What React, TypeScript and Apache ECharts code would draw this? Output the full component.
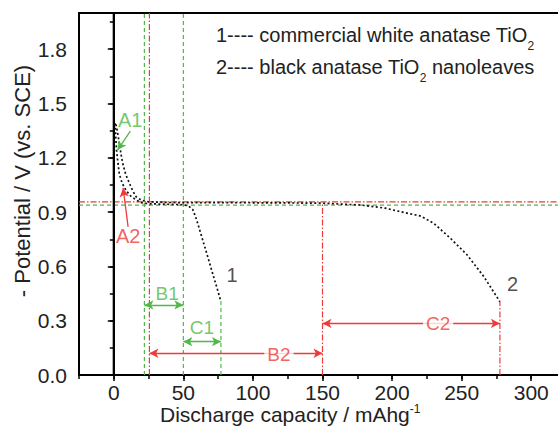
import React, { useEffect, useRef } from 'react';
import * as echarts from 'echarts';

const GREEN = '#4fb947';
const RED = '#f03a3a';
const FONT = '"Liberation Sans", Arial, sans-serif';

// Axis ranges / ticks
const xMin = -25;
const xMax = 325;
const yMin = 0;
const yMax = 2.0;
const xMajorTicks = [0, 50, 100, 150, 200, 250, 300];
const yMajorTicks = [0, 0.3, 0.6, 0.9, 1.2, 1.5, 1.8];

// Curve 1: commercial white anatase TiO2
const curve1: [number, number][] = [
  [1.0, 1.39], [1.5, 1.30], [2.0, 1.24], [3.0, 1.17], [4.0, 1.11], [6.0, 1.06],
  [8.8, 1.02], [12, 0.99], [16, 0.967], [20, 0.952], [25, 0.946], [35, 0.944],
  [45, 0.942], [50.7, 0.94], [54, 0.932], [56.7, 0.915], [58.5, 0.88], [60.3, 0.838],
  [63.9, 0.746], [67.5, 0.654], [71, 0.562], [74.6, 0.47], [77, 0.405],
];

// Curve 2: black anatase TiO2 nanoleaves
const curve2: [number, number][] = [
  [1.5, 1.385], [2.5, 1.35], [4, 1.28], [5.2, 1.22], [6.4, 1.17], [8.5, 1.11],
  [11.2, 1.06], [13.5, 1.02], [16, 0.985], [20, 0.965], [25, 0.957], [40, 0.953],
  [80, 0.952], [120, 0.951], [150, 0.949], [177.5, 0.939], [195, 0.922], [206.2, 0.902],
  [220.6, 0.878], [230, 0.838], [242, 0.755], [254, 0.663], [266, 0.543], [277.5, 0.405],
];

// Reference guide lines (segments)
const greenGuides: [number, number][][] = [
  [[22, 0], [22, 2]],
  [[50, 0], [50, 2]],
  [[77, 0], [77, 0.405]],
  [[-25, 0.939], [325, 0.939]],
];
const redGuides: [number, number][][] = [
  [[25.6, 0], [25.6, 2]],
  [[150, 0], [150, 0.95]],
  [[277.5, 0], [277.5, 0.405]],
  [[-25, 0.957], [325, 0.957]],
];

// Arrows: [from, to, double-headed]
const greenArrows: [[number, number], [number, number], boolean][] = [
  [[22, 0.387], [50, 0.387], true],
  [[50, 0.184], [77, 0.184], true],
  [[11.9, 1.347], [2.7, 1.243], false],
];
const redArrows: [[number, number], [number, number], boolean][] = [
  [[25.6, 0.12], [150, 0.12], true],
  [[150, 0.285], [277.5, 0.285], true],
  [[10.3, 0.818], [6.7, 1.033], false],
];

// Annotation labels
const annotTexts = ['A1', 'A2', 'B1', 'C1', 'B2', 'C2', '1', '2'];
const annotPos: [number, number][] = [
  [11.8, 1.409], [10.3, 0.768], [38.3, 0.453], [63.4, 0.26],
  [118.7, 0.116], [233.1, 0.287], [85, 0.552], [286.6, 0.503],
];
const annotColors = [GREEN, RED, GREEN, GREEN, RED, RED, '#222', '#222'];
const annotSizes = [20, 20, 19, 19, 19, 19, 20, 20];
const annotBg = [false, false, false, false, true, true, false, false];

const legendLines = [
  ['1---- commercial white anatase TiO', '2', ''],
  ['2---- black anatase TiO', '2', ' nanoleaves'],
];

export default function App() {
  const ref = useRef<HTMLDivElement>(null);
  useEffect(() => {
    if (!ref.current) return;
    const chart = echarts.init(ref.current, undefined, { renderer: 'svg' });

    const guideSeries = (segs: [number, number][][], color: string, dash: number[]) =>
      segs.map((seg) => ({
        type: 'line',
        data: seg,
        symbol: 'none',
        silent: true,
        z: 2,
        lineStyle: { color, width: 1.2, type: dash },
      }));

    const arrowData = (arr: [[number, number], [number, number], boolean][], color: string) =>
      arr.map(([a, b, both]) => [
        { coord: a, symbol: both ? 'arrow' : 'none', lineStyle: { color, width: 1.3, type: 'solid' } },
        { coord: b, symbol: 'arrow' },
      ]);

    const majorTickStyle = { color: '#000', width: 1.5 };

    const option: any = {
      animation: false,
      backgroundColor: '#fff',
      grid: {
        left: 79,
        top: 13,
        bottom: 53,
        right: -8,
        containLabel: false,
        outerBoundsMode: 'none',
        show: true,
        borderColor: '#000',
        borderWidth: 2,
        backgroundColor: 'transparent',
      },
      xAxis: [
        {
          type: 'value',
          min: xMin,
          max: xMax,
          interval: 25,
          axisLine: { show: true, lineStyle: { color: '#000', width: 2 } },
          axisTick: { show: true, length: 4, lineStyle: majorTickStyle },
          axisLabel: {
            fontSize: 21,
            lineHeight: 16,
            fontFamily: FONT,
            color: '#222',
            margin: 9,
            hideOverlap: false,
            formatter: (v: number) => (xMajorTicks.indexOf(v) >= 0 ? String(v) : ''),
          },
          splitLine: { show: false },
        },
        {
          type: 'value',
          min: xMin,
          max: xMax,
          position: 'bottom',
          axisLine: { show: false },
          axisTick: { show: true, length: 6, lineStyle: majorTickStyle, customValues: xMajorTicks },
          axisLabel: { show: false },
          splitLine: { show: false },
        },
      ],
      yAxis: [
        {
          type: 'value',
          min: yMin,
          max: yMax,
          interval: 0.15,
          axisLine: { show: true, lineStyle: { color: '#000', width: 2 } },
          axisTick: { show: true, length: 4, lineStyle: majorTickStyle },
          axisLabel: {
            fontSize: 21,
            fontFamily: FONT,
            color: '#222',
            margin: 12,
            showMaxLabel: false,
            formatter: (v: number) =>
              yMajorTicks.some((t) => Math.abs(t - v) < 1e-6) ? v.toFixed(1) : '',
          },
          splitLine: { show: false },
        },
        {
          type: 'value',
          min: yMin,
          max: yMax,
          position: 'left',
          axisLine: { show: false },
          axisTick: { show: true, length: 6, lineStyle: majorTickStyle, customValues: yMajorTicks },
          axisLabel: { show: false },
          splitLine: { show: false },
        },
      ],
      series: [
        ...guideSeries(greenGuides, GREEN, [4, 3]),
        ...guideSeries(redGuides, RED, [6, 2, 1.5, 2]),
        {
          type: 'line',
          data: [[0, yMin], [0, yMax]],
          symbol: 'none',
          silent: true,
          z: 3,
          lineStyle: { color: '#000', width: 2.2, type: 'solid' },
        },
        {
          name: 'commercial white anatase TiO2',
          type: 'line',
          data: curve1,
          symbol: 'none',
          z: 4,
          lineStyle: { color: '#111', width: 1.7, type: [2, 2.4] },
        },
        {
          name: 'black anatase TiO2 nanoleaves',
          type: 'line',
          data: curve2,
          symbol: 'none',
          z: 4,
          lineStyle: { color: '#111', width: 1.7, type: [2, 2.4] },
        },
        {
          type: 'line',
          data: [],
          z: 5,
          markLine: {
            silent: true,
            symbolSize: [7, 9],
            label: { show: false },
            data: [...arrowData(greenArrows, GREEN), ...arrowData(redArrows, RED)],
          },
        },
        {
          type: 'scatter',
          symbolSize: 0,
          z: 10,
          silent: true,
          data: annotTexts.map((t, i) => ({
            value: annotPos[i],
            label: {
              show: true,
              position: 'inside',
              formatter: t,
              color: annotColors[i],
              fontSize: annotSizes[i],
              fontFamily: FONT,
              backgroundColor: annotBg[i] ? '#fff' : 'transparent',
              padding: annotBg[i] ? [0, 3] : 0,
            },
          })),
        },
      ],
      graphic: [
        ...legendLines.map((l, i) => ({
          type: 'text',
          x: 216,
          y: 25 + i * 32,
          z: 20,
          style: {
            text: `{a|${l[0]}}{s|${l[1]}}` + (l[2] ? `{a|${l[2]}}` : ''),
            fill: '#222',
            rich: {
              a: { fontSize: 20, lineHeight: 20, fontFamily: FONT, fill: '#222', verticalAlign: 'top' },
              s: { fontSize: 12, lineHeight: 12, fontFamily: FONT, fill: '#222', verticalAlign: 'top', padding: [15, 0, 0, 0] },
            },
          },
        })),
        {
          type: 'text',
          x: 160,
          y: 404,
          z: 20,
          style: {
            text: '{a|Discharge capacity / mAhg}{s|-1}',
            fill: '#222',
            rich: {
              a: { fontSize: 21, lineHeight: 16, fontFamily: FONT, fill: '#222', verticalAlign: 'top' },
              s: { fontSize: 12, lineHeight: 10, fontFamily: FONT, fill: '#222', verticalAlign: 'top', padding: [-1, 0, 0, 0] },
            },
          },
        },
        {
          type: 'text',
          x: 22,
          y: 181,
          rotation: Math.PI / 2,
          z: 20,
          style: {
            text: '- Potential / V (vs. SCE)',
            fontSize: 22,
            fontFamily: FONT,
            fill: '#222',
            align: 'center',
            verticalAlign: 'middle',
          },
        },
      ],
    };
    chart.setOption(option);
    return () => chart.dispose();
  }, []);
  return (
    <div
      ref={ref}
      style={{ position: 'fixed', left: 0, top: 0, width: 558, height: 428, background: '#fff' }}
    />
  );
}
